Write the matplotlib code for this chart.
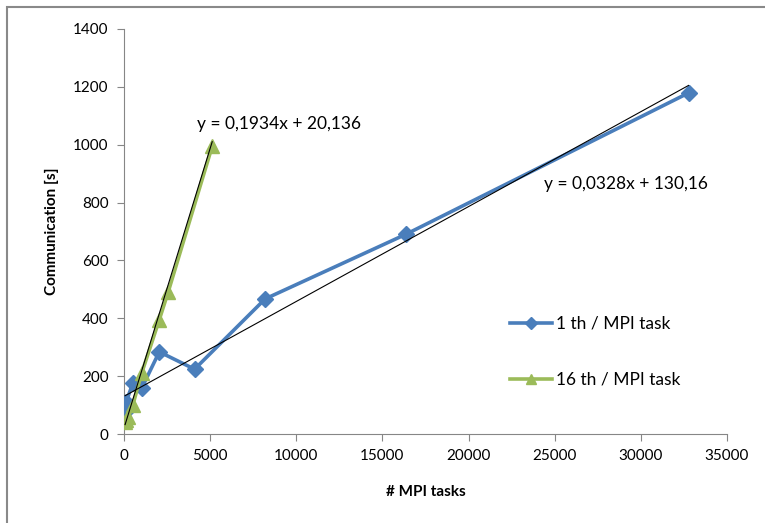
import numpy as np
import matplotlib.pyplot as plt
from matplotlib.patches import Rectangle

plt.rcParams['font.family'] = ['Lato', 'DejaVu Sans']

# 1 thread per MPI task
tasks_1th = [64, 128, 512, 1024, 2048, 4096, 8192, 16384, 32768]
comm_1th = [77, 112, 175, 158, 284, 224, 467, 691, 1179]

# 16 threads per MPI task
tasks_16th = [64, 128, 256, 512, 1024, 2048, 2560, 5120]
comm_16th = [40, 48, 60, 100, 210, 395, 490, 995]

# linear trendlines (slope, intercept) as printed on the chart
fit_1th = (0.0328, 130.16)
fit_16th = (0.1934, 20.136)

x_ticks = [0, 5000, 10000, 15000, 20000, 25000, 30000, 35000]
y_ticks = [0, 200, 400, 600, 800, 1000, 1200, 1400]

blue = '#4A7EBB'
green = '#9BBB59'
axis_grey = '#868686'

fig = plt.figure(figsize=(7.65, 5.23), dpi=100)
ax = fig.add_axes([124 / 765, 1 - 434 / 523, 603 / 765, 405 / 523])

# outer chart frame (cropped at right and bottom)
fig.patches.append(Rectangle((7 / 765, -0.1), 1.2, 1 - 7 / 523 + 0.1, transform=fig.transFigure,
                             fill=False, edgecolor='#898989', linewidth=1.5))

ax.plot(tasks_1th, comm_1th, color=blue, lw=2.6, marker='D', ms=8.5, label='1 th / MPI task', zorder=3)
ax.plot(tasks_16th, comm_16th, color=green, lw=2.6, marker='^', ms=10, label='16 th / MPI task', zorder=4)

# trendlines over the range of each series
for xs, (m, b) in [(tasks_1th, fit_1th), (tasks_16th, fit_16th)]:
    xr = np.array([min(xs), max(xs)])
    ax.plot(xr, m * xr + b, color='black', lw=0.8, zorder=5)

ax.text(4250, 1071, 'y = 0,1934x + 20,136', fontsize=12.5, va='center', ha='left')
ax.text(24400, 864, 'y = 0,0328x + 130,16', fontsize=12.5, va='center', ha='left')

ax.set_xlim(0, 35000)
ax.set_ylim(0, 1400)
ax.set_xticks(x_ticks)
ax.set_yticks(y_ticks)
ax.tick_params(axis='both', direction='out', length=5, color=axis_grey, labelsize=11, pad=6)

for s in ['top', 'right']:
    ax.spines[s].set_visible(False)
for s in ['left', 'bottom']:
    ax.spines[s].set_color(axis_grey)

ax.set_xlabel('# MPI tasks', fontsize=11, fontweight='bold', labelpad=16)
ax.set_ylabel('Communication [s]', fontsize=11, fontweight='bold', labelpad=10)

ax.legend(loc='upper left', bbox_to_anchor=(0.615, 0.33), frameon=False, fontsize=12.5,
          labelspacing=2.3, handlelength=2.4, handletextpad=0.2, markerscale=0.75)

fig.savefig('out.png', dpi=100)
